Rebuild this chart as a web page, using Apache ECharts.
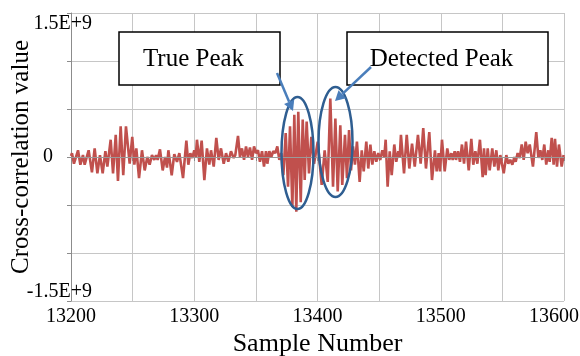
<!DOCTYPE html>
<html>
<head>
<meta charset="utf-8">
<script src="https://cdn.jsdelivr.net/npm/echarts@6/dist/echarts.min.js"></script>
<style>
  html, body { margin: 0; padding: 0; background: #fff; }
  #chart { width: 580px; height: 356px; }
</style>
</head>
<body>
<div id="chart"></div>
<script>
// sample number of each turning point of the trace
const sampleNumbers = [
  13200.0, 13200.8, 13202.4, 13205.7, 13207.6, 13209.7, 13211.1, 13214.3, 13217.0, 13219.2, 13221.4,
  13223.5, 13225.7, 13227.9, 13229.5, 13232.2, 13234.1, 13236.3, 13238.1, 13240.3, 13242.4,
  13244.6, 13247.6, 13249.7, 13251.4, 13253.0, 13255.2, 13257.6, 13259.8, 13261.9, 13263.8,
  13265.7, 13267.6, 13269.0, 13270.3, 13272.2, 13274.4, 13276.3, 13277.9, 13279.0, 13281.7,
  13283.8, 13286.0, 13287.9, 13290.9, 13293.6, 13295.2, 13296.8, 13298.4, 13300.0, 13301.2,
  13302.2, 13304.1, 13306.0, 13308.2, 13310.3, 13312.2, 13313.6, 13315.8, 13317.9, 13319.8,
  13321.7, 13323.9, 13325.8, 13327.6, 13329.8, 13332.0, 13333.3, 13335.5, 13337.1, 13338.7,
  13340.4, 13342.0, 13343.6, 13345.2, 13346.9, 13348.5, 13350.1, 13351.7, 13353.3, 13355.0,
  13356.6, 13358.2, 13359.3, 13360.9, 13362.5, 13364.1, 13365.8, 13367.4, 13369.0, 13370.6,
  13372.3, 13374.2, 13376.1, 13377.7, 13379.6, 13381.2, 13382.8, 13384.4, 13386.4, 13388.0,
  13389.6, 13391.2, 13393.1, 13395.0, 13397.2, 13400.2, 13403.4, 13405.8, 13408.3, 13410.4,
  13412.6, 13414.5, 13416.4, 13418.5, 13420.1, 13422.3, 13423.9, 13425.6, 13427.2, 13428.8,
  13430.4, 13432.0, 13434.2, 13435.9, 13437.5, 13439.6, 13441.2, 13442.9, 13444.5, 13446.1,
  13447.7, 13449.3, 13450.9, 13452.6, 13454.2, 13455.3, 13456.9, 13458.6, 13460.2, 13462.3,
  13463.9, 13465.6, 13466.7, 13467.7, 13470.2, 13472.4, 13474.5, 13476.7, 13478.9, 13481.5,
  13483.7, 13485.8, 13488.0, 13490.7, 13492.9, 13495.3, 13496.7, 13498.3, 13499.4, 13501.0,
  13503.2, 13505.3, 13506.9, 13508.6, 13509.7, 13511.3, 13512.4, 13514.0, 13515.6, 13517.2,
  13518.9, 13520.5, 13522.7, 13524.8, 13526.4, 13528.1, 13529.7, 13531.8, 13534.0, 13535.1,
  13536.4, 13538.1, 13539.7, 13541.8, 13543.5, 13545.1, 13546.7, 13548.3, 13551.1, 13553.2,
  13554.8, 13556.4, 13558.1, 13559.7, 13560.8, 13562.4, 13564.1, 13565.7, 13567.3, 13568.9,
  13570.5, 13572.2, 13574.8, 13577.5, 13579.2, 13580.8, 13582.4, 13584.0, 13585.6, 13587.3,
  13588.4, 13590.0, 13591.6, 13592.7, 13594.3, 13595.9, 13598.1, 13599.7
]

// cross-correlation value, in units of 1E+8
const correlation = [
  0.1, 0.4, -0.7, 0.7, -0.8, 0.2, -0.8, 0.7, -1.6, 0.9, -1.7,
  0.2, -1.7, 0.6, -1.0, 1.8, -1.7, 2.3, -2.5, 3.2, -1.9,
  3.2, -0.7, 2.1, -0.8, 0.9, -2.2, 0.7, -1.4, 0.0, -0.8,
  0.2, -0.3, 0.2, -0.3, 0.8, -1.4, 0.0, -1.1, 0.7, -1.9,
  0.3, -0.5, 0.4, -2.2, 1.7, -0.8, 0.4, -0.1, 0.7, 0.0,
  1.8, -0.5, 1.7, -2.4, 0.9, -0.8, 0.7, -1.0, 2.0, -0.3,
  0.9, -0.7, 0.4, -0.5, 0.6, -0.1, 0.2, 2.2, 0.0, 0.9,
  -0.3, 1.1, 0.0, 1.0, -0.3, 1.1, 0.4, 0.7, -0.5, 0.6,
  -1.0, 0.6, -0.7, 0.6, 0.0, 0.6, 0.4, 1.1, -0.3, 0.4,
  -1.9, 2.5, -3.1, 3.2, -5.2, 4.4, -5.7, 4.7, -4.7, 3.9,
  -2.4, 3.7, -1.7, 2.1, -0.7, 1.6, -2.9, 0.7, -2.6, 6.1,
  -3.1, 4.0, -3.6, 3.3, -2.9, 2.3, -2.2, 2.8, -1.4, 1.1,
  -0.8, 1.6, -2.6, 0.7, -1.5, 1.6, -1.2, 1.3, -0.8, 0.6,
  -0.5, 0.4, -0.3, 0.7, 0.0, 1.8, -3.1, 0.6, -1.9, 1.3,
  -0.5, 0.6, 0.0, 2.3, -1.7, 2.3, -1.2, 1.4, -1.0, 2.3,
  -0.7, 3.0, -1.2, 2.6, -2.4, 0.7, -1.5, 0.4, -1.5, 1.8,
  -1.5, 0.9, -0.3, 0.4, -0.3, 0.6, -0.3, 0.6, -0.5, 1.3,
  -0.7, 1.6, -1.4, 1.9, -0.8, 0.6, -0.7, 1.8, -2.1, 0.9,
  -1.9, 0.9, -1.4, 0.9, -1.0, 0.7, -1.4, 0.2, -1.7, 0.2,
  -0.7, -0.3, -0.8, 0.0, -0.5, 0.4, -0.1, 1.3, -0.3, 1.6,
  0.4, 1.3, -1.0, 2.6, -0.1, 0.7, -0.3, 1.3, -0.8, 0.7,
  -0.5, 2.0, -0.8, 1.9, -1.0, 1.3, -1.0, 0.2
]

const yTickValues = [-1.5e9, 0, 1.5e9]
const yTickText = ['-1.5E+9', '0', '1.5E+9']
const xTickLabels = [13200, 13300, 13400, 13500, 13600]

const font = '"Times New Roman", "Liberation Serif", serif'
const arrowColor = '#4a7ebb'
const ringColor = '#2f5e91'

const chart = echarts.init(document.getElementById('chart'))

// arrow = shaft + filled head
function arrow(x1, y1, x2, y2) {
  const len = Math.hypot(x2 - x1, y2 - y1)
  const ux = (x2 - x1) / len, uy = (y2 - y1) / len
  const bx = x2 - ux * 10, by = y2 - uy * 10
  return [
    { type: 'line', z: 100, shape: { x1, y1, x2: bx, y2: by }, style: { stroke: arrowColor, lineWidth: 2.5 } },
    { type: 'polygon', z: 100, shape: { points: [[x2, y2], [bx - uy * 5.5, by + ux * 5.5], [bx + uy * 5.5, by - ux * 5.5]] }, style: { fill: arrowColor } }
  ]
}

function label(x, y, w, h, text) {
  return [
    { type: 'rect', z: 100, shape: { x, y, width: w, height: h }, style: { fill: '#fff', stroke: '#000', lineWidth: 1.5 } },
    { type: 'text', z: 101, x: x + w / 2 - 6, y: y + h / 2 + 1,
      style: { text, fontSize: 25, fontFamily: font, fill: '#000', textAlign: 'center', textVerticalAlign: 'middle' } }
  ]
}

function ring(cx, cy, rx, ry) {
  return { type: 'ellipse', z: 100, shape: { cx, cy, rx, ry }, style: { fill: 'transparent', stroke: ringColor, lineWidth: 2.5 } }
}

const option = {
  animation: false,
  grid: { left: 71, right: 16, top: 13, bottom: 55, outerBoundsMode: 'none' },
  xAxis: {
    type: 'value',
    min: 13200, max: 13600, interval: 50,
    name: 'Sample Number',
    nameLocation: 'middle',
    nameGap: 30,
    nameMoveOverlap: false,
    nameTextStyle: { fontFamily: font, fontSize: 26, color: '#000' },
    axisLine: { lineStyle: { color: '#8c8c8c', width: 1 } },
    axisTick: { show: true, length: 4, lineStyle: { color: '#8c8c8c' } },
    axisLabel: {
      fontFamily: font, fontSize: 20, color: '#000', margin: 6,
      formatter: v => {
        if (!xTickLabels.includes(v)) return ''
        return v === 13600 ? '{e|' + v + '}' : String(v)
      },
      rich: { e: { fontFamily: font, fontSize: 20, color: '#000', padding: [0, 20, 0, 0] } }
    },
    splitLine: { show: true, lineStyle: { color: '#c6c6c6', width: 1 } }
  },
  yAxis: {
    type: 'value',
    min: -1.5e9, max: 1.5e9, interval: 0.5e9,
    name: 'Cross-correlation value',
    nameLocation: 'middle',
    nameGap: 37,
    nameMoveOverlap: false,
    nameTextStyle: { fontFamily: font, fontSize: 25, color: '#000' },
    axisLine: { show: true, lineStyle: { color: '#8c8c8c', width: 1 } },
    axisTick: { show: true, length: 4, lineStyle: { color: '#8c8c8c' } },
    axisLabel: {
      fontFamily: font, fontSize: 20, color: '#000', margin: -21,
      formatter: v => {
        const i = yTickValues.findIndex(t => Math.abs(t - v) < 1)
        if (i < 0) return ''
        return ['{b|', '{z|', '{t|'][i] + yTickText[i] + '}'
      },
      rich: {
        t: { fontFamily: font, fontSize: 20, color: '#000', padding: [22, 0, 0, 0] },
        z: { fontFamily: font, fontSize: 20, color: '#000', padding: [0, 39, 0, 0] },
        b: { fontFamily: font, fontSize: 20, color: '#000', padding: [0, 0, 18, 0] }
      }
    },
    splitLine: { show: true, lineStyle: { color: '#c6c6c6', width: 1 } }
  },
  series: [{
    type: 'line',
    data: sampleNumbers.map((s, i) => [s, correlation[i] * 1e8]),
    showSymbol: false,
    lineStyle: { color: '#c0504d', width: 2.6 },
    markLine: {
      silent: true, symbol: 'none', label: { show: false },
      lineStyle: { color: '#9a9a9a', type: 'solid', width: 1 },
      data: [{ yAxis: 0 }]
    }
  }],
  graphic: [
    ring(297.5, 153, 16, 56),
    ring(335.5, 142, 17, 55),
    ...label(119, 32, 161, 53, 'True Peak'),
    ...label(347, 32, 201, 53, 'Detected Peak'),
    ...arrow(277, 73, 293, 111),
    ...arrow(371, 67, 335, 101)
  ]
}

chart.setOption(option)
</script>
</body>
</html>
